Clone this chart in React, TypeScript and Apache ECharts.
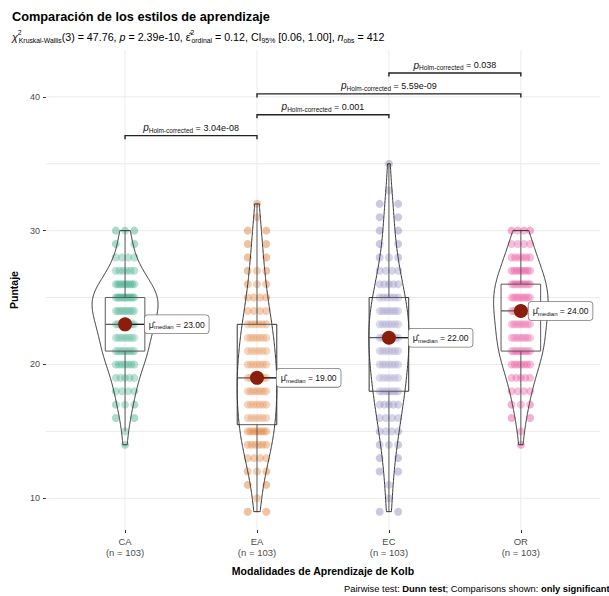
import React, { useEffect, useRef } from "react";
import * as echarts from "echarts";

// ---------------- data ----------------
const categories = ["CA", "EA", "EC", "OR"];
const scoreLevels = [9, 10, 11, 12, 13, 14, 15, 16, 17, 18, 19, 20, 21, 22, 23, 24, 25, 26, 27, 28, 29, 30, 31, 32, 33, 34, 35];
const countsCA = [0, 0, 0, 0, 0, 1, 1, 2, 3, 4, 5, 7, 9, 9, 11, 12, 14, 10, 6, 4, 2, 3, 0, 0, 0, 0, 0];
const countsEA = [2, 1, 2, 3, 4, 6, 8, 6, 7, 8, 8, 7, 6, 7, 6, 4, 4, 3, 3, 2, 2, 2, 1, 1, 0, 0, 0];
const countsEC = [2, 1, 1, 2, 2, 3, 4, 4, 5, 7, 6, 7, 7, 9, 7, 8, 6, 5, 4, 3, 2, 2, 2, 2, 1, 0, 1];
const countsOR = [0, 0, 0, 0, 0, 1, 1, 2, 3, 4, 5, 7, 9, 9, 9, 10, 11, 10, 8, 6, 4, 4, 0, 0, 0, 0, 0];
const groupCounts = [countsCA, countsEA, countsEC, countsOR];

const yTicks = [10, 20, 30, 40];
const yGridLines = [10, 15, 20, 25, 30, 35, 40];

const pairFrom = [0, 1, 1, 2];
const pairTo = [1, 2, 3, 3];
const pairP = ["3.04e-08", "0.001", "5.59e-09", "0.038"];

const statChi = "47.76";
const statDf = "3";
const statP = "2.39e-10";
const statEps = "0.12";
const statCI = "[0.06, 1.00]";
const nObs = "412";

// ---------------- style ----------------
const colors = ["#1B9E77", "#D95F02", "#7570B3", "#E7298A"];
const FONT = "'Liberation Sans', Arial, Helvetica, sans-serif";
const labelDx = [0, 0, 0, -12];
const Y_MIN = 7.63;
const Y_MAX = 43.5;

// ---------------- derived stats ----------------
function expand(counts: number[]) {
  const arr: number[] = [];
  counts.forEach((c, k) => {
    for (let j = 0; j < c; j++) arr.push(scoreLevels[k]);
  });
  return arr;
}
function quant(s: number[], p: number) {
  const h = (s.length - 1) * p;
  const lo = Math.floor(h);
  const hi = Math.min(lo + 1, s.length - 1);
  return s[lo] + (h - lo) * (s[hi] - s[lo]);
}
const stats = groupCounts.map((counts) => {
  const s = expand(counts).sort((a, b) => a - b);
  const n = s.length;
  const mean = s.reduce((a, b) => a + b, 0) / n;
  const sd = Math.sqrt(s.reduce((a, b) => a + (b - mean) * (b - mean), 0) / (n - 1));
  const q1 = quant(s, 0.25);
  const q3 = quant(s, 0.75);
  const med = quant(s, 0.5);
  const iqr = q3 - q1;
  const bw = 0.9 * Math.min(sd, iqr / 1.34) * Math.pow(n, -0.2);
  const lo = s[0];
  const hi = s[n - 1];
  const ys: number[] = [];
  const ds: number[] = [];
  const M = 256;
  for (let k = 0; k < M; k++) {
    const y = lo + ((hi - lo) * k) / (M - 1);
    let d = 0;
    for (const v of s) {
      const z = (y - v) / bw;
      d += Math.exp(-0.5 * z * z);
    }
    d = d / (n * bw * Math.sqrt(2 * Math.PI));
    ys.push(y);
    ds.push(d);
  }
  const upperW = Math.max(...s.filter((v) => v <= q3 + 1.5 * iqr));
  const lowerW = Math.min(...s.filter((v) => v >= q1 - 1.5 * iqr));
  return { s, n, q1, q3, med, ys, ds, upperW, lowerW, lo, hi };
});
const maxDens = Math.max(...stats.map((st) => Math.max(...st.ds)));
const allMax = Math.max(...stats.map((st) => st.hi));
const allMin = Math.min(...stats.map((st) => st.lo));
const bracketStart = allMax * 1.06;
const bracketStep = (allMax - allMin) * 0.06;

// points spread (deterministic) across the jitter width
const pointSeriesData = groupCounts.map((counts, i) => {
  const pts: number[][] = [];
  counts.forEach((c, k) => {
    for (let j = 0; j < c; j++) {
      const off = c === 1 ? 0 : -0.07 + (0.14 * j) / (c - 1);
      pts.push([i + off, scoreLevels[k]]);
    }
  });
  return pts;
});

export default function App() {
  const ref = useRef<HTMLDivElement>(null);
  useEffect(() => {
    if (!ref.current) return;
    const chart = echarts.init(ref.current, undefined, { renderer: "svg" });

    const gridSeries = {
      type: "custom",
      silent: true,
      z: 0,
      data: [[0]],
      renderItem: (params: any, api: any) => {
        const cs = params.coordSys;
        const children: any[] = [];
        yGridLines.forEach((v) => {
          const [, y] = api.coord([0, v]);
          children.push({
            type: "line",
            shape: { x1: cs.x, y1: y, x2: cs.x + cs.width, y2: y },
            style: { stroke: "#EBEBEB", lineWidth: 1 },
          });
        });
        categories.forEach((_, i) => {
          const [x] = api.coord([i, Y_MIN]);
          children.push({
            type: "line",
            shape: { x1: x, y1: cs.y, x2: x, y2: cs.y + cs.height },
            style: { stroke: "#EBEBEB", lineWidth: 1 },
          });
        });
        return { type: "group", children };
      },
    };

    const pointSeries = pointSeriesData.map((d, i) => ({
      type: "scatter",
      name: categories[i],
      data: d,
      symbolSize: 8,
      z: 1,
      silent: true,
      itemStyle: { color: colors[i], opacity: 0.38 },
    }));

    const violinSeries = {
      type: "custom",
      silent: true,
      z: 2,
      data: categories.map((_, i) => [i]),
      renderItem: (params: any, api: any) => {
        const i = api.value(0);
        const st = stats[i];
        const left = st.ys.map((y, k) => api.coord([i - (st.ds[k] / maxDens) * 0.25, y]));
        const right = st.ys.map((y, k) => api.coord([i + (st.ds[k] / maxDens) * 0.25, y])).reverse();
        const [bx0, byTop] = api.coord([i - 0.15, st.q3]);
        const [bx1, byBot] = api.coord([i + 0.15, st.q1]);
        const [cx, yMed] = api.coord([i, st.med]);
        const [, yUp] = api.coord([i, st.upperW]);
        const [, yLow] = api.coord([i, st.lowerW]);
        const lineStyle = { stroke: "#333", lineWidth: 1 };
        return {
          type: "group",
          children: [
            { type: "line", shape: { x1: cx, y1: byTop, x2: cx, y2: yUp }, style: lineStyle },
            { type: "line", shape: { x1: cx, y1: byBot, x2: cx, y2: yLow }, style: lineStyle },
            {
              type: "rect",
              shape: { x: bx0, y: byTop, width: bx1 - bx0, height: byBot - byTop },
              style: { fill: "rgba(255,255,255,0.2)", stroke: "#333", lineWidth: 1 },
            },
            { type: "line", shape: { x1: bx0, y1: yMed, x2: bx1, y2: yMed }, style: { stroke: "#333", lineWidth: 1.3 } },
            {
              type: "polygon",
              shape: { points: left.concat(right) },
              style: { fill: "rgba(255,255,255,0.2)", stroke: "#333", lineWidth: 1 },
            },
          ],
        };
      },
    };

    const medianSeries = {
      type: "custom",
      silent: true,
      z: 4,
      data: categories.map((_, i) => [i]),
      renderItem: (params: any, api: any) => {
        const i = api.value(0);
        const st = stats[i];
        const [cx, cy] = api.coord([i, st.med]);
        const [bxR] = api.coord([i + 0.15, st.med]);
        const lx = bxR + labelDx[i];
        return {
          type: "group",
          children: [
            { type: "line", shape: { x1: cx, y1: cy, x2: lx, y2: cy }, style: { stroke: "#111", lineWidth: 1 } },
            { type: "circle", shape: { cx, cy, r: 7 }, style: { fill: "#8B1E0A" } },
            {
              type: "text",
              x: lx,
              y: cy,
              style: {
                text: "{mu|μ̂}{sub|median}{n| = " + st.med.toFixed(2) + "}",
                align: "left",
                verticalAlign: "middle",
                backgroundColor: "#fff",
                borderColor: "#777",
                borderWidth: 0.8,
                borderRadius: 3,
                padding: [4, 4, 3, 4],
                fill: "#111",
                fontFamily: FONT,
                rich: {
                  mu: { fontSize: 9, fontFamily: FONT, fill: "#111", lineHeight: 11 },
                  sub: { fontSize: 6, fontFamily: FONT, fill: "#111", verticalAlign: "bottom", lineHeight: 11 },
                  n: { fontSize: 8.5, fontFamily: FONT, fill: "#111", lineHeight: 11 },
                },
              },
            },
          ],
        };
      },
    };

    const bracketSeries = {
      type: "custom",
      silent: true,
      z: 4,
      data: pairP.map((_, k) => [k]),
      renderItem: (params: any, api: any) => {
        const k = api.value(0);
        const y = bracketStart + k * bracketStep;
        const p1 = api.coord([pairFrom[k], y]);
        const p2 = api.coord([pairTo[k], y]);
        const tip = 3.5;
        return {
          type: "group",
          children: [
            {
              type: "polyline",
              shape: { points: [[p1[0], p1[1] + tip], p1, p2, [p2[0], p2[1] + tip]] },
              style: { stroke: "#222", lineWidth: 1.4, fill: null },
            },
            {
              type: "text",
              x: (p1[0] + p2[0]) / 2,
              y: p1[1] - 2,
              style: {
                text: "{p|p}{sub|Holm-corrected}{n| = " + pairP[k] + "}",
                align: "center",
                verticalAlign: "bottom",
                fill: "#111",
                fontFamily: FONT,
                rich: {
                  p: { fontSize: 10, fontStyle: "italic", fontFamily: FONT, fill: "#111", lineHeight: 12 },
                  sub: { fontSize: 6.5, fontFamily: FONT, fill: "#111", verticalAlign: "bottom", lineHeight: 12 },
                  n: { fontSize: 9, fontFamily: FONT, fill: "#111", lineHeight: 12 },
                },
              },
            },
          ],
        };
      },
    };

    const subtitleText =
      "{it|χ}{sup|2}{sub|Kruskal-Wallis}{n|(" + statDf + ") = " + statChi + ", }{it|p}{n| = " + statP +
      ", }{n|ε̂}{sup|2}{sub|ordinal}{n| = " + statEps + ", CI}{sub|95%}{n| " + statCI + ", }{it|n}{sub|obs}{n| = " + nObs + "}";

    const norm = { fontWeight: "normal", color: "#000", fontFamily: FONT };

    chart.setOption({
      animation: false,
      backgroundColor: "#ffffff",
      title: [
        {
          text: "Comparación de los estilos de aprendizaje",
          left: 12,
          top: 10,
          padding: 0,
          textStyle: { fontSize: 12.75, fontWeight: "bold", color: "#000", fontFamily: FONT },
        },
        {
          text: subtitleText,
          left: 12,
          top: 29,
          padding: 0,
          textStyle: {
            fontFamily: FONT,
            fontWeight: "normal",
            rich: {
              it: { ...norm, fontSize: 10.7, fontStyle: "italic", lineHeight: 15 },
              n: { ...norm, fontSize: 10.7, lineHeight: 15 },
              sup: { ...norm, fontSize: 6.8, verticalAlign: "top", lineHeight: 15, width: 1 },
              sub: { ...norm, fontSize: 6.8, verticalAlign: "bottom", lineHeight: 15 },
            },
          },
        },
        {
          text: "{n|Pairwise test: }{b|Dunn test}{n|; Comparisons shown: }{b|only significant}",
          left: 344,
          top: 584,
          padding: 0,
          textStyle: {
            fontFamily: FONT,
            fontWeight: "normal",
            rich: {
              n: { ...norm, fontSize: 9.4 },
              b: { ...norm, fontSize: 9.4, fontWeight: "bold" },
            },
          },
        },
      ],
      grid: { left: 42, right: 9, top: 50, bottom: 66 },
      xAxis: {
        type: "value",
        min: -0.6,
        max: 3.6,
        axisLine: { show: false, onZero: false },
        splitLine: { show: false },
        axisTick: { show: true, customValues: [0, 1, 2, 3], length: 3, lineStyle: { color: "#333" } },
        axisLabel: {
          customValues: [0, 1, 2, 3],
          formatter: (v: number) => categories[Math.round(v)] + "\n(n = " + stats[Math.round(v)].n + ")",
          color: "#4D4D4D",
          fontSize: 9.5,
          lineHeight: 11,
          margin: 6,
          fontFamily: FONT,
        },
        name: "Modalidades de Aprendizaje de Kolb",
        nameLocation: "middle",
        nameGap: 35,
        nameTextStyle: { fontSize: 10.5, fontWeight: "bold", color: "#000", fontFamily: FONT },
      },
      yAxis: {
        type: "value",
        min: Y_MIN,
        max: Y_MAX,
        axisLine: { show: false, onZero: false },
        splitLine: { show: false },
        axisTick: { show: true, customValues: yTicks, length: 3, lineStyle: { color: "#333" } },
        axisLabel: { customValues: yTicks, color: "#4D4D4D", fontSize: 9, margin: 6, fontFamily: FONT },
        name: "Puntaje",
        nameLocation: "middle",
        nameGap: 22,
        nameTextStyle: { fontSize: 10.5, fontWeight: "bold", color: "#000", fontFamily: FONT },
      },
      series: [gridSeries, ...pointSeries, violinSeries, medianSeries, bracketSeries],
    });
    return () => chart.dispose();
  }, []);
  return <div ref={ref} style={{ position: "fixed", left: 0, top: 0, width: 609, height: 596 }} />;
}
